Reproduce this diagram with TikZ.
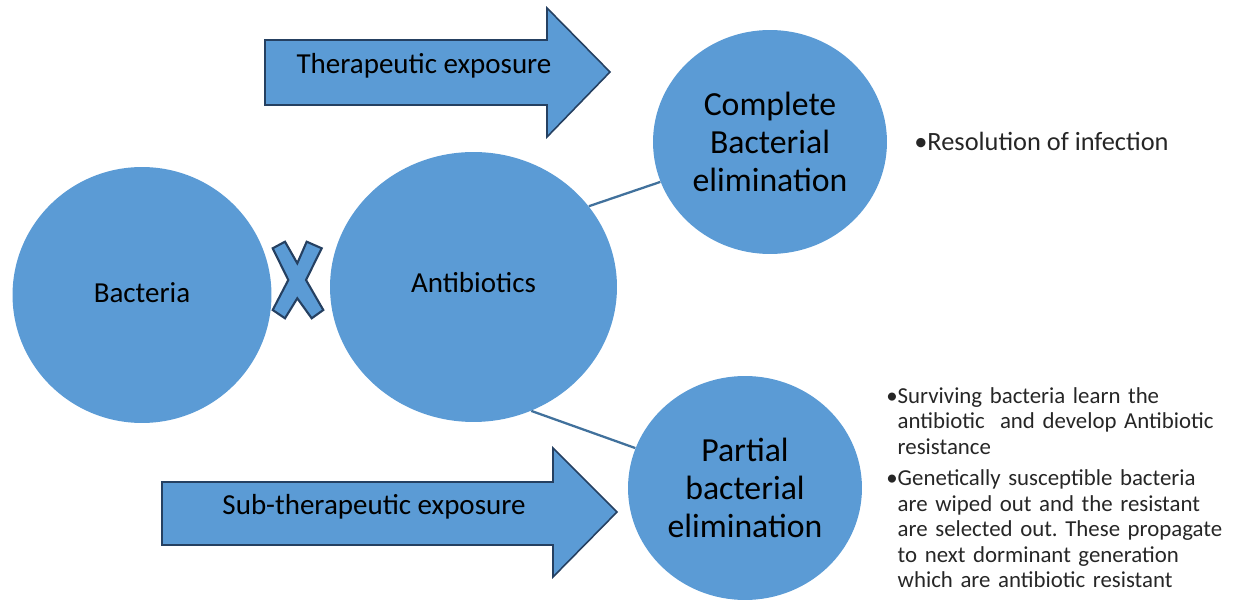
\documentclass[tikz,border=0pt]{standalone}
\usepackage{fontspec}
\setmainfont{Carlito}
\frenchspacing
\definecolor{cellBlue}{RGB}{91,155,213}
\definecolor{cellEdge}{RGB}{37,64,97}
\definecolor{linkBlue}{RGB}{65,113,156}
\usetikzlibrary{positioning,shapes.geometric}
\newlength{\bulw}
\newcommand{\bulitem}[1]{\settowidth{\bulw}{\textbullet}\hangindent=\bulw\hangafter=1\noindent\textbullet#1\par}

\begin{document}
\begin{tikzpicture}[
    x=0.02cm, y=-0.02cm,
    cell/.style={
        ellipse, fill=cellBlue, inner sep=0pt,
        align=center, text=black
    },
    bigText/.style={font=\fontsize{19.2}{21.5}\selectfont},
    midText/.style={font=\fontsize{16.5}{19}\selectfont},
    blockArrow/.style={
        fill=cellBlue, draw=cellEdge, line width=0.9pt, line join=miter
    },
    arrowText/.style={font=\fontsize{16.5}{19}\selectfont, text=black},
    link/.style={draw=linkBlue, line width=1.3pt},
    notes/.style={
        align=left, text width=7.4cm, inner sep=0pt,
        font=\fontsize{13}{14.46}\selectfont, text=black!85
    }
]
    \useasboundingbox (0,0) rectangle (1241,607);

    % Circles
    \node[cell, midText, minimum width=5.18cm, minimum height=5.12cm] (bacteria) at (142,295) {\raisebox{0.1cm}{Bacteria}};
    \node[cell, midText, minimum width=5.74cm, minimum height=5.4cm] (antibiotics) at (473.5,287) {\raisebox{0.18cm}{Antibiotics}};
    \node[cell, bigText, minimum width=4.68cm, minimum height=4.48cm] (complete) at (770,142) {Complete\\Bacterial\\elimination};
    \node[cell, bigText, minimum width=4.68cm, minimum height=4.48cm] (partial) at (745,488) {Partial\\bacterial\\elimination};

    % Cross between bacteria and antibiotics
    \draw[blockArrow, line width=1.2pt] (272.7,248.3) -- (285,241.7) -- (297.3,263.3) -- (306.7,241.7)
        -- (321.7,248.3) -- (306,280) -- (323.3,310) -- (311.7,318.3) -- (297.3,298.3)
        -- (285,318.3) -- (272.7,310) -- (288.3,280) -- cycle;

    % Exposure arrows
    \draw[blockArrow] (265,40) -- (547,40) -- (547,8) -- (610,72) -- (547,137) -- (547,105) -- (265,105) -- cycle;
    \node[arrowText] (therapeutic) at (424,66) {Therapeutic exposure};
    \draw[blockArrow] (162,482) -- (553,482) -- (553,448) -- (617,512) -- (553,577) -- (553,545) -- (162,545) -- cycle;
    \node[arrowText] (subTherapeutic) at (374,507) {Sub-therapeutic exposure};

    % Links
    \draw[link] (antibiotics.35) -- (complete.200);
    \draw[link] (antibiotics.-65) -- (partial.160);

    % Outcomes
    \node[anchor=west, font=\fontsize{15}{18}\selectfont, inner sep=0pt, text=black!85] (resolution) at (914,141) {\textbullet Resolution of infection};
    \node[notes, anchor=north west] (partialNotes) at (886,387) {%
        \setlength{\parskip}{3.7pt}%
        \bulitem{Surviving bacteria learn the\newline antibiotic\ \ and develop Antibiotic\newline resistance}%
        \bulitem{Genetically susceptible bacteria\newline are wiped out and the resistant\newline are selected out. These propagate\newline to next dorminant generation\newline which are antibiotic resistant}%
    };
\end{tikzpicture}
\end{document}
